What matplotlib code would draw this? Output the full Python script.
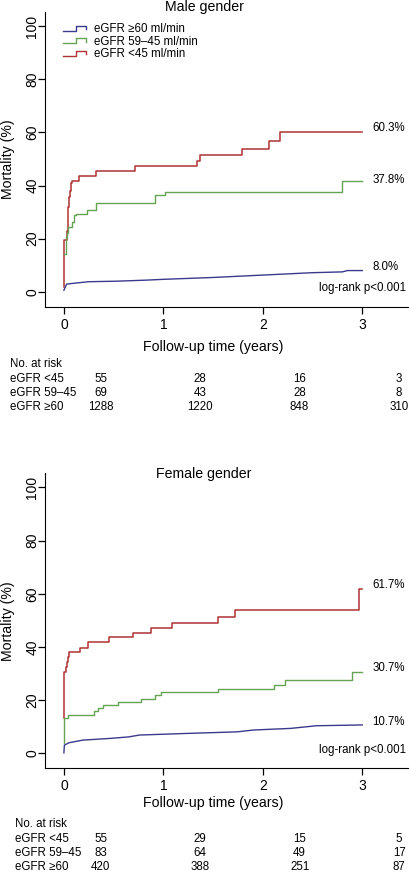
import matplotlib
matplotlib.use("Agg")
import matplotlib.pyplot as plt
from matplotlib.legend_handler import HandlerBase
from matplotlib.lines import Line2D
from matplotlib.transforms import blended_transform_factory

plt.rcParams['font.family'] = ['Liberation Sans', 'DejaVu Sans']

# colours
c_low = '#b03232'   # eGFR <45
c_mid = '#64a452'   # eGFR 59-45
c_high = '#3a3a8c'  # eGFR >=60

# ---- male gender ----
m_red_t = [0, 0.003, 0.027, 0.037, 0.044, 0.054, 0.06, 0.074, 0.084, 0.154, 0.32, 0.715, 1.34, 1.37, 1.79, 2.06, 2.175, 3.0]
m_red_v = [1.9, 19.5, 23, 27.6, 32, 35.8, 38, 40.8, 41.8, 43.7, 45.5, 47.4, 49.3, 51.4, 53.9, 56.8, 60.3, 60.3]
m_green_t = [0.003, 0.02, 0.03, 0.044, 0.077, 0.104, 0.117, 0.228, 0.32, 0.916, 1.02, 2.80, 3.0]
m_green_v = [14.4, 20.7, 22, 24.5, 26.3, 28.9, 29.3, 30.7, 33.5, 36.4, 37.6, 41.6, 41.6]
m_blue_t = [0, 0.027, 0.12, 0.25, 0.53, 0.83, 1.0, 1.5, 2.0, 2.5, 2.8, 2.85, 3.0]
m_blue_v = [0.6, 2.9, 3.3, 3.8, 4.0, 4.4, 4.7, 5.4, 6.3, 7.2, 7.5, 8.0, 8.0]
m_end_labels = ['60.3%', '37.8%', '8.0%']
m_end_y = [61.6, 42.0, 9.4]
m_risk = [[55, 28, 16, 3], [69, 43, 28, 8], [1288, 1220, 848, 310]]

# ---- female gender ----
f_red_t = [0, 0.003, 0.017, 0.027, 0.037, 0.05, 0.165, 0.24, 0.45, 0.69, 0.873, 1.09, 1.55, 1.72, 2.965, 3.0]
f_red_v = [13.2, 30.7, 32.6, 34.4, 36.3, 38.2, 39.8, 41.7, 43.6, 45.3, 47.2, 49.1, 51.4, 53.9, 61.7, 61.7]
f_green_t = [0, 0.003, 0.044, 0.305, 0.34, 0.396, 0.547, 0.775, 0.916, 0.98, 1.545, 2.11, 2.225, 2.90, 3.0]
f_green_v = [3.8, 13.2, 14.4, 15.8, 17.0, 18.2, 19.2, 20.6, 21.8, 22.9, 24.2, 25.7, 27.6, 30.7, 30.7]
f_blue_t = [0, 0.005, 0.05, 0.19, 0.45, 0.65, 0.76, 1.23, 1.74, 1.91, 2.28, 2.54, 3.0]
f_blue_v = [0.2, 3.1, 4.0, 5.0, 5.6, 6.2, 6.9, 7.5, 8.1, 8.8, 9.4, 10.4, 10.7]
f_end_labels = ['61.7%', '30.7%', '10.7%']
f_end_y = [63.3, 32.0, 11.7]
f_risk = [[55, 29, 15, 5], [83, 64, 49, 17], [420, 388, 251, 87]]

risk_times = [0, 1, 2, 3]
risk_rows = ['eGFR <45', 'eGFR 59\u201345', 'eGFR \u226560']
legend_labels = ['eGFR \u226560 ml/min', 'eGFR 59\u201345 ml/min', 'eGFR <45 ml/min']

W, H = 410, 872


def fx(px):
    return px / W


def fy(py):
    return 1 - py / H


class StepHandler(HandlerBase):
    # small step-shaped legend key
    def create_artists(self, legend, orig_handle, xdescent, ydescent,
                       width, height, fontsize, trans):
        x0 = -xdescent
        y0 = -ydescent
        xs = [x0, x0 + 0.55 * width, x0 + 0.55 * width, x0 + width, x0 + width]
        ys = [y0 + 0.15 * height, y0 + 0.15 * height, y0 + 0.75 * height,
              y0 + 0.75 * height, y0 + 0.35 * height]
        ln = Line2D(xs, ys, color=orig_handle.get_color(), lw=1.0)
        ln.set_transform(trans)
        return [ln]


fig = plt.figure(figsize=(W / 100, H / 100), dpi=100)


def panel(top_px, bot_px, red, green, blue, ends, end_y, title, title_py,
          risk, lab_px, rows_py, xlab_y, legend=False):
    ax = fig.add_axes([fx(45), fy(bot_px), fx(410) - fx(45), fy(top_px) - fy(bot_px)])
    ax.step(red[0], red[1], where='post', color=c_low, lw=1.1)
    ax.step(green[0], green[1], where='post', color=c_mid, lw=1.0)
    ax.plot(blue[0], blue[1], color=c_high, lw=1.0)

    ax.set_xlim(-0.19, 3.48)
    ax.set_ylim(-5.6, 105.3)
    ax.set_xticks([0, 1, 2, 3])
    ax.set_yticks([0, 20, 40, 60, 80, 100])
    for s in ['top', 'right']:
        ax.spines[s].set_visible(False)
    ax.tick_params(direction='out', length=5, width=0.9, labelsize=10, pad=3)
    ax.tick_params(axis='y', pad=-1)
    for lbl in ax.get_yticklabels():
        lbl.set_rotation(90)
        lbl.set_va('center')
    ax.set_ylabel('Mortality (%)', fontsize=10.2)
    ax.yaxis.set_label_coords(-0.081, 0.5)
    ax.set_xlabel('Follow-up time (years)', fontsize=10.2)
    ax.xaxis.set_label_coords(0.46, xlab_y)

    fig.text(fx(204), fy(title_py), title, ha='center', va='center', fontsize=10.2)

    for lab, yv in zip(ends, end_y):
        ax.text(3.10, yv, lab, ha='left', va='center', fontsize=8.3)
    ax.text(3.44, 1.3, 'log-rank p<0.001', ha='right', va='center', fontsize=8.3)

    # number at risk table
    tr = blended_transform_factory(ax.transData, fig.transFigure)
    fig.text(fx(lab_px), fy(rows_py[0]), 'No. at risk', ha='left', va='center', fontsize=8.3)
    for i, row in enumerate(risk_rows):
        fig.text(fx(lab_px), fy(rows_py[i + 1]), row, ha='left', va='center', fontsize=8.3)
        for t, n in zip(risk_times, risk[i]):
            ax.text(t + 0.37, fy(rows_py[i + 1]), str(n), transform=tr,
                    ha='center', va='center', fontsize=8.3, clip_on=False)

    if legend:
        handles = [Line2D([], [], color=c_high), Line2D([], [], color=c_mid),
                   Line2D([], [], color=c_low)]
        ax.legend(handles, legend_labels, loc='upper left',
                  bbox_to_anchor=(0.05, 0.962), frameon=False, fontsize=8.3,
                  handler_map={Line2D: StepHandler()}, handlelength=2.0,
                  handletextpad=0.7, labelspacing=0.03, borderpad=0,
                  borderaxespad=0)
    return ax


panel(12, 306.7, (m_red_t, m_red_v), (m_green_t, m_green_v), (m_blue_t, m_blue_v),
      m_end_labels, m_end_y, 'Male gender', 6.7, m_risk, 10,
      [364, 379, 393.3, 406.7], -0.113, legend=True)
panel(473.3, 768.3, (f_red_t, f_red_v), (f_green_t, f_green_v), (f_blue_t, f_blue_v),
      f_end_labels, f_end_y, 'Female gender', 474, f_risk, 15,
      [824, 839, 853.3, 866.7], -0.094)

fig.savefig('out.png', dpi=100)
